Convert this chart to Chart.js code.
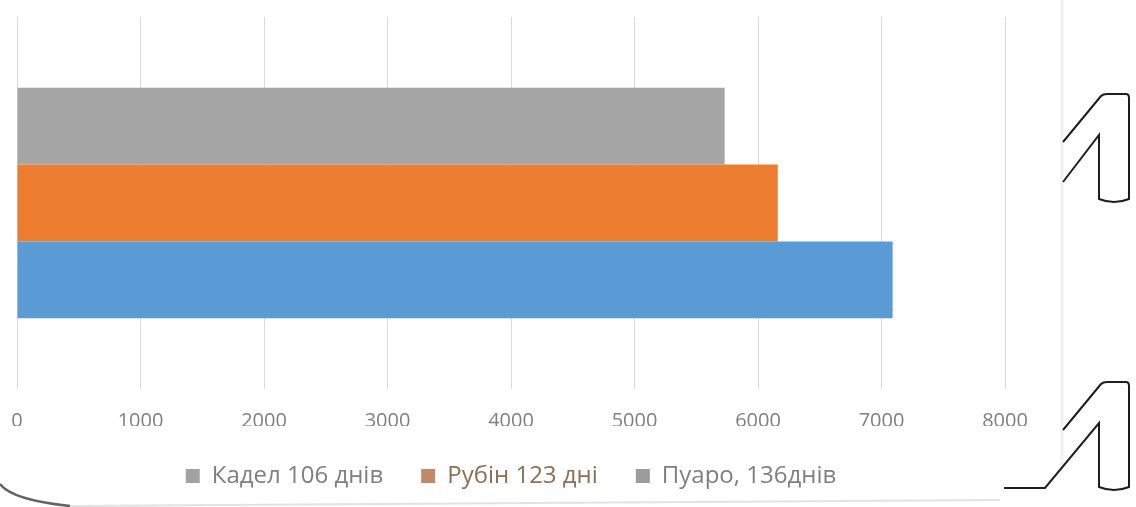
<!DOCTYPE html>
<html>
<head>
<meta charset="utf-8">
<script src="https://cdn.jsdelivr.net/npm/chart.js@4/dist/chart.umd.min.js"></script>
<style>
  html, body { margin: 0; padding: 0; background: #ffffff; }
  #wrap { width: 1136px; height: 507px; position: relative; }
</style>
</head>
<body>
<div id="wrap"><canvas id="c" width="1136" height="507"></canvas></div>
<script>
// Series names, in legend order
const seriesNames = ['Кадел 106 днів', 'Рубін 123 дні', 'Пуаро, 136днів'];
// Values per series (one category)
const seriesValues = [7090, 6160, 5730];
// Bar fill colours per series
const seriesColors = ['#5b9bd5', '#ed7d31', '#a5a5a5'];
// Legend swatch colours per series
const legendSwatches = ['#a2a2a2', '#c0896a', '#9c9c9c'];
// Legend text colours per series
const legendTextColors = ['#7f7f7f', '#8c6f55', '#7f7f7f'];
// Category label (not shown)
const categories = [''];
// Value axis ticks
const tickValues = [0, 1000, 2000, 3000, 4000, 5000, 6000, 7000, 8000];

// Bars are stacked top-to-bottom in dataset order, so the last series goes first
const order = [2, 1, 0];
const datasets = order.map(i => ({
  label: seriesNames[i],
  data: [seriesValues[i]],
  backgroundColor: seriesColors[i],
  borderWidth: 0,
  categoryPercentage: 0.62,
  barPercentage: 1.0
}));

// Hand-drawn ornaments around the chart frame
const ornaments = {
  id: 'ornaments',
  afterDraw(chart) {
    const ctx = chart.ctx;
    ctx.save();
    // faint frame line on the right
    ctx.strokeStyle = 'rgba(215,215,215,0.35)';
    ctx.lineWidth = 3;
    ctx.beginPath();
    ctx.moveTo(1062, 0); ctx.lineTo(1062, 470);
    ctx.stroke();

    // rounded frame corner, bottom left
    ctx.strokeStyle = 'rgba(60,60,60,0.8)';
    ctx.lineWidth = 2.5;
    ctx.beginPath();
    ctx.moveTo(0, 484);
    ctx.quadraticCurveTo(12, 500, 70, 506);
    ctx.stroke();
    ctx.strokeStyle = 'rgba(160,160,160,0.3)';
    ctx.lineWidth = 2;
    ctx.beginPath();
    ctx.moveTo(70, 506); ctx.lineTo(1000, 500);
    ctx.stroke();

    // two outlined "1" marks
    ctx.strokeStyle = '#1e1e1e';
    ctx.lineWidth = 2;
    const one = (dy, tailX) => {
      ctx.beginPath();
      ctx.moveTo(1063, 142 + dy);
      ctx.lineTo(1101, 96 + dy);
      ctx.quadraticCurveTo(1103, 94 + dy, 1107, 94 + dy);
      ctx.lineTo(1126, 94 + dy);
      ctx.quadraticCurveTo(1129, 94 + dy, 1129, 98 + dy);
      ctx.lineTo(1129, 199 + dy);
      ctx.quadraticCurveTo(1114, 205 + dy, 1099, 199 + dy);
      ctx.lineTo(1099, 135 + dy);
      if (tailX) {
        ctx.lineTo(1045, 200 + dy);
        ctx.lineTo(tailX, 200 + dy);
      } else {
        ctx.lineTo(1063, 182 + dy);
      }
      ctx.stroke();
    };
    one(0, null);
    one(288, 1004);
    ctx.restore();
  }
};

new Chart(document.getElementById('c'), {
  type: 'bar',
  data: { labels: categories, datasets },
  options: {
    indexAxis: 'y',
    responsive: false,
    animation: false,
    layout: { padding: { left: 17, right: 131, top: 17, bottom: 9 } },
    scales: {
      x: {
        min: 0, max: 8000,
        afterBuildTicks(axis) { axis.ticks = tickValues.map(v => ({ value: v })); },
        afterFit(axis) { axis.paddingLeft = 0; axis.paddingRight = 0; axis.height = 37; },
        grid: { color: '#d9d9d9', lineWidth: 1, drawTicks: false },
        border: { display: false },
        ticks: {
          color: '#808080',
          padding: 20,
          font: { family: 'Open Sans', size: 20 },
          callback: v => String(v)
        }
      },
      y: {
        display: false
      }
    },
    plugins: {
      tooltip: { enabled: false },
      legend: {
        position: 'bottom',
        labels: {
          boxWidth: 14,
          boxHeight: 14,
          padding: 38,
          font: { family: 'Open Sans', size: 24 },
          generateLabels(chart) {
            return seriesNames.map((name, i) => ({
              text: name,
              fillStyle: legendSwatches[i],
              strokeStyle: legendSwatches[i],
              lineWidth: 0,
              fontColor: legendTextColors[i],
              hidden: false,
              datasetIndex: order.indexOf(i)
            }));
          }
        }
      }
    }
  },
  plugins: [ornaments]
});
</script>
</body>
</html>
